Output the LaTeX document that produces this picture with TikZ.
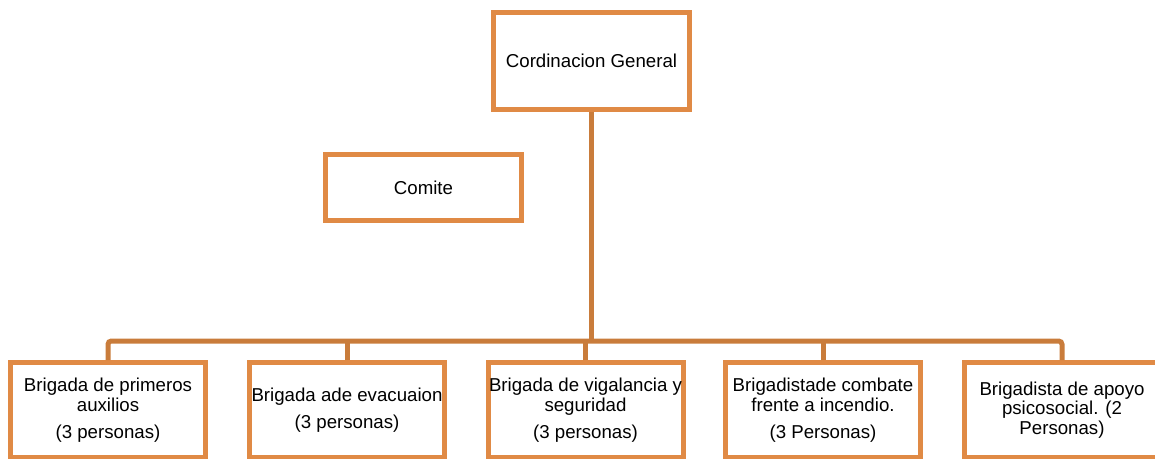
\documentclass[tikz,border=0pt]{standalone}
\usepackage{fontspec}
\setmainfont{Liberation Sans}
\definecolor{boxorange}{HTML}{E08A45}
\definecolor{lineorange}{HTML}{C97C3B}

\tikzset{
  orgbox/.style={draw=boxorange,line width=3.75pt,fill=white,align=center,inner sep=0pt,
    minimum width=146.25pt,font=\fontsize{14}{14.8}\selectfont},
  brigbox/.style={orgbox,minimum height=71.25pt},
  link/.style={draw=lineorange,line width=3.75pt}
}

\begin{document}
\begin{tikzpicture}[x=0.75pt,y=-0.75pt]
  \useasboundingbox (0,0) rectangle (1155,459);

  % Top
  \node[orgbox,minimum width=147pt,minimum height=72.75pt] (coord) at (591.5,61) {Cordinacion General};
  \node[orgbox,minimum width=147pt,minimum height=49.5pt] (comite) at (423.5,187.5) {Comite};

  % Brigades
  \node[brigbox] (auxilios) at (108,410) {Brigada de primeros\\ auxilios\\[5.25pt] (3 personas)};
  \node[brigbox] (evacuacion) at (347,410) {Brigada ade evacuaion\\[5.25pt] (3 personas)};
  \node[brigbox] (vigilancia) at (585.5,410) {Brigada de vigalancia y\\ seguridad\\[5.25pt] (3 personas)};
  \node[brigbox] (incendio) at (823,410) {Brigadistade combate\\ frente a incendio.\\[5.25pt] (3 Personas)};
  \node[brigbox] (psico) at (1062,410) {Brigadista de apoyo\\ psicosocial. (2\\ Personas)};

  % Connectors
  \coordinate (bus) at (591.5,341);
  \path[link] (coord.south) -- (bus);
  \path[link,rounded corners=2.5pt] (auxilios.north) |- (bus) -| (psico.north);
  \path[link] (evacuacion.north) -- (evacuacion.north |- bus);
  \path[link] (vigilancia.north) -- (vigilancia.north |- bus);
  \path[link] (incendio.north) -- (incendio.north |- bus);
\end{tikzpicture}
\end{document}
